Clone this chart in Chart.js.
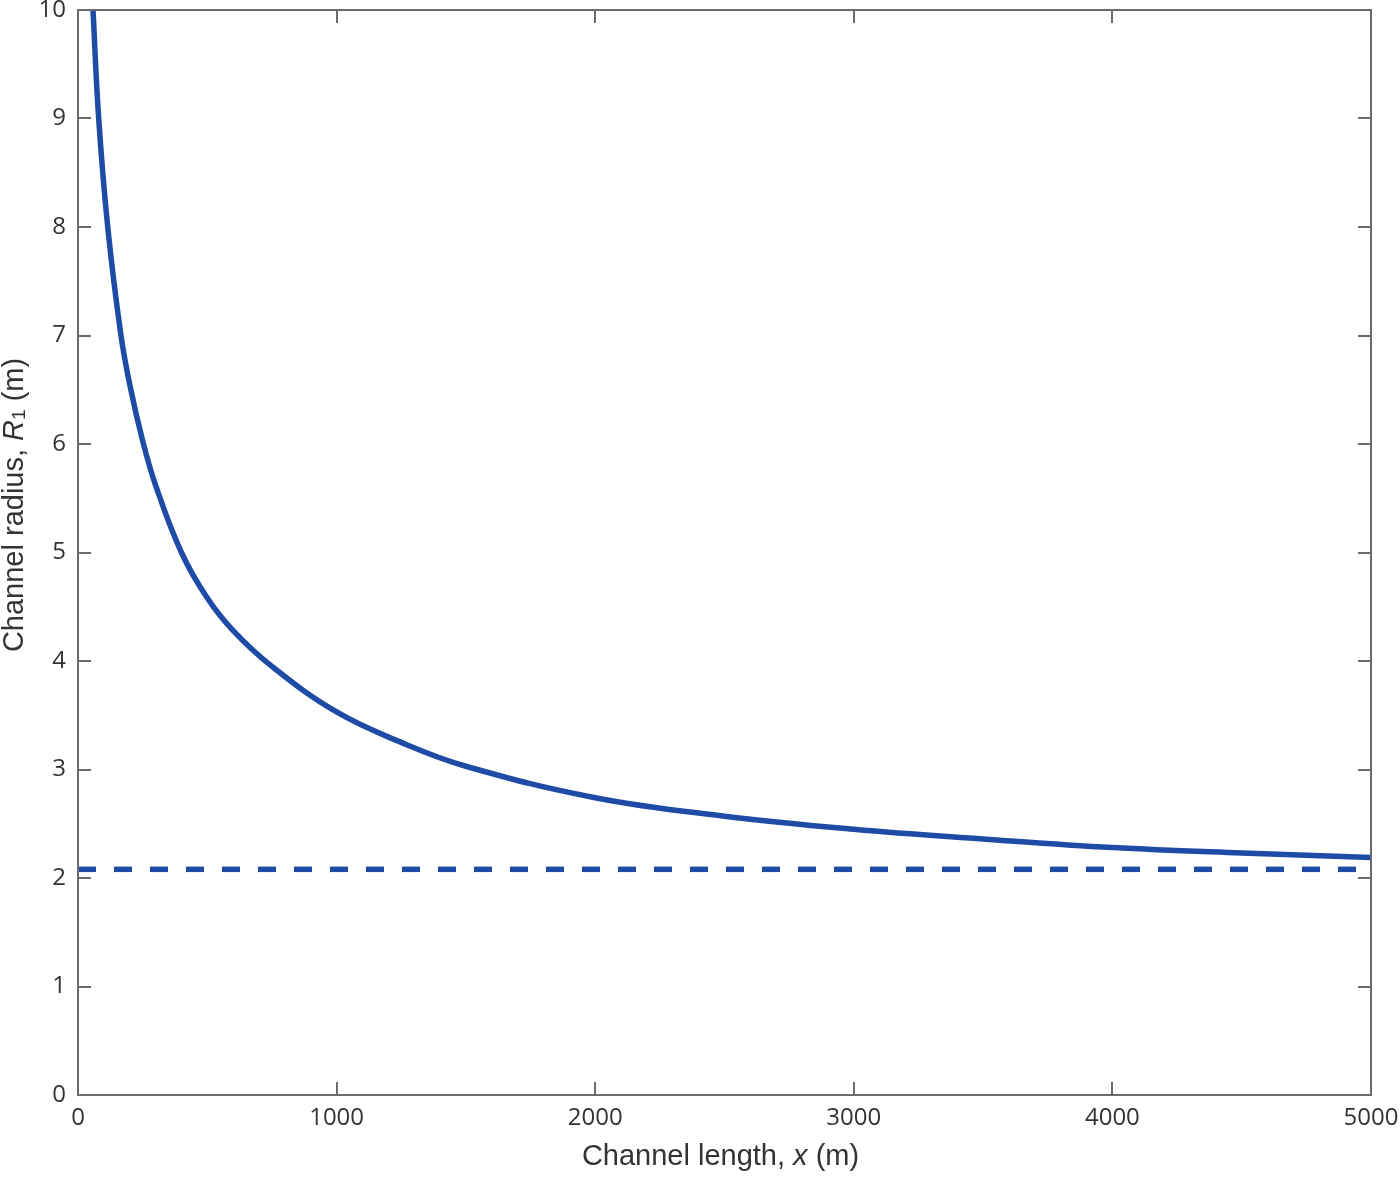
<!DOCTYPE html>
<html>
<head>
<meta charset="utf-8">
<script src="https://cdn.jsdelivr.net/npm/chart.js@4/dist/chart.umd.min.js"></script>
<style>
  html, body { margin: 0; padding: 0; background: #fff; }
  #wrap { width: 1400px; height: 1177px; position: relative; }
</style>
</head>
<body>
<div id="wrap"><canvas id="radiusChart"></canvas></div>
<script>
// channel radius curve
const lengthX = [58, 80, 115, 165, 200, 250, 300, 400, 500, 600, 750, 1000, 1250, 1500, 2000, 2500, 3000, 3500, 4000, 4500, 5000];
const radiusR = [10, 9.0, 8.0, 7.02, 6.55, 6.03, 5.62, 5.0, 4.58, 4.28, 3.95, 3.53, 3.25, 3.03, 2.74, 2.57, 2.45, 2.36, 2.28, 2.23, 2.19];
// asymptote (dashed)
const limitX = [0, 5000];
const limitR = [2.08, 2.08];

const xTicks = [0, 1000, 2000, 3000, 4000, 5000];
const yTicks = [0, 1, 2, 3, 4, 5, 6, 7, 8, 9, 10];

const BLUE = '#1d4ba6';
const AXIS = '#6b6b6b';
const TXT = '#333333';

// box round the plot with inward ticks on all four sides
const frame = {
  id: 'frame',
  afterDatasetsDraw(chart) {
    const { ctx, chartArea: a, scales } = chart;
    const len = 13;
    ctx.save();
    ctx.strokeStyle = AXIS;
    ctx.lineWidth = 2;
    ctx.strokeRect(a.left, a.top, a.right - a.left, a.bottom - a.top);
    ctx.beginPath();
    xTicks.forEach(v => {
      const px = Math.round(scales.x.getPixelForValue(v));
      ctx.moveTo(px, a.bottom); ctx.lineTo(px, a.bottom - len);
      ctx.moveTo(px, a.top); ctx.lineTo(px, a.top + len);
    });
    yTicks.forEach(v => {
      const py = Math.round(scales.y.getPixelForValue(v));
      ctx.moveTo(a.left, py); ctx.lineTo(a.left + len, py);
      ctx.moveTo(a.right, py); ctx.lineTo(a.right - len, py);
    });
    ctx.stroke();
    ctx.restore();
  }
};

// axis titles with italic symbols
function drawParts(ctx, parts, cx, cy) {
  let w = 0;
  parts.forEach(p => { ctx.font = p.font; w += ctx.measureText(p.t).width; });
  let x = cx - w / 2;
  parts.forEach(p => {
    ctx.font = p.font;
    ctx.fillText(p.t, x, cy + (p.dy || 0));
    x += ctx.measureText(p.t).width;
  });
}

const titles = {
  id: 'titles',
  afterDraw(chart) {
    const { ctx, chartArea: a } = chart;
    const fam = '"Liberation Sans", Arial, sans-serif';
    const n = `29px ${fam}`, it = `italic 29px ${fam}`, sm = `19px ${fam}`;
    ctx.save();
    ctx.fillStyle = TXT;
    ctx.textBaseline = 'middle';
    ctx.textAlign = 'left';
    drawParts(ctx, [
      { t: 'Channel length, ', font: n },
      { t: 'x', font: it },
      { t: ' (m)', font: n }
    ], (a.left + a.right) / 2 - 4, 1157);
    ctx.translate(15, 505);
    ctx.rotate(-Math.PI / 2);
    drawParts(ctx, [
      { t: 'Channel radius, ', font: n },
      { t: 'R', font: it },
      { t: '1', font: sm, dy: 5 },
      { t: ' (m)', font: n }
    ], 0, 0);
    ctx.restore();
  }
};

const tickFont = { family: '"Open Sans", "DejaVu Sans", sans-serif', size: 24, lineHeight: 0.8 };
// invisible tick marks only push the labels away from the axis
const hiddenGrid = len => ({ display: true, drawOnChartArea: false, drawTicks: true, tickLength: len, color: 'rgba(0,0,0,0)' });

new Chart(document.getElementById('radiusChart'), {
  type: 'line',
  data: {
    datasets: [
      {
        label: 'R1',
        data: lengthX.map((x, i) => ({ x, y: radiusR[i] })),
        borderColor: BLUE,
        borderWidth: 5.5,
        pointRadius: 0,
        tension: 0.4
      },
      {
        label: 'limit',
        data: limitX.map((x, i) => ({ x, y: limitR[i] })),
        borderColor: BLUE,
        borderWidth: 5.5,
        borderDash: [18, 18],
        pointRadius: 0
      }
    ]
  },
  options: {
    responsive: true,
    maintainAspectRatio: false,
    animation: false,
    layout: { padding: { top: 10, right: 29, left: 0, bottom: 0 } },
    plugins: { legend: { display: false }, tooltip: { enabled: false } },
    scales: {
      x: {
        type: 'linear',
        min: 0, max: 5000,
        afterFit: s => { s.height = 82; },
        afterBuildTicks: s => { s.ticks = xTicks.map(v => ({ value: v })); },
        grid: hiddenGrid(14),
        border: { display: false },
        ticks: { color: TXT, font: tickFont, padding: 0, maxRotation: 0, callback: v => String(v) }
      },
      y: {
        min: 0, max: 10,
        afterFit: s => { s.width = 78; },
        afterBuildTicks: s => { s.ticks = yTicks.map(v => ({ value: v })); },
        grid: hiddenGrid(12),
        border: { display: false },
        ticks: { color: TXT, font: tickFont, padding: 0, callback: v => String(v) }
      }
    }
  },
  plugins: [frame, titles]
});
</script>
</body>
</html>
